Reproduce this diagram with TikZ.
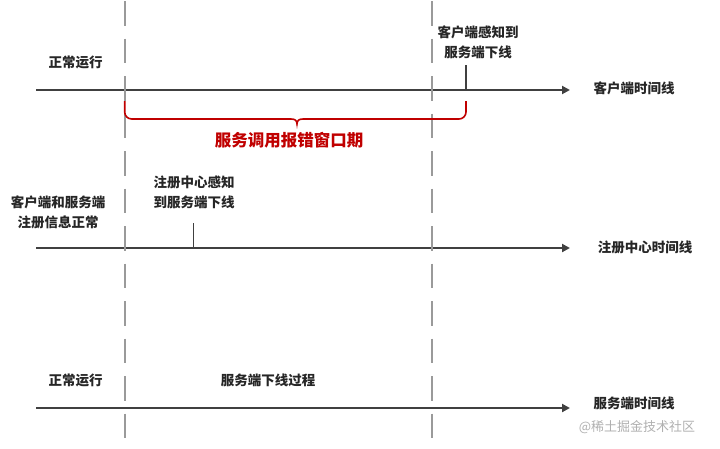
\documentclass[tikz,border=0pt]{standalone}
\usepackage{fontspec}
\setmainfont{Noto Sans CJK SC}
\usetikzlibrary{arrows.meta}
\definecolor{tl}{HTML}{404040}
\definecolor{dl}{HTML}{9A9A9A}
\definecolor{rd}{HTML}{C00000}
\definecolor{wm}{HTML}{B0B0B0}
\tikzset{
  timeline/.style={draw=tl, line width=2pt, -{Triangle[length=8pt,width=8pt]}},
  tickline/.style={draw=tl, line width=1.6pt},
  sepline/.style={draw=dl, line width=2pt, dash pattern=on 24.5pt off 13pt},
  bracel/.style={draw=rd, line width=1.6pt},
  lbl/.style={font={\fontsize{13.5}{20}\selectfont\bfseries}, text=black!85, align=center, inner sep=0pt},
  redlbl/.style={font={\fontsize{16.5}{20}\selectfont\bfseries}, text=rd, inner sep=0pt},
  wmk/.style={font={\fontsize{13}{16}\selectfont}, text=wm, inner sep=0pt}
}
\begin{document}
\begin{tikzpicture}[x=1pt,y=-1pt]
\useasboundingbox (0,0) rectangle (720,448);
% timeline endpoints
\coordinate (c0) at (36,90);   \coordinate (c1) at (570,90);
\coordinate (r0) at (36,248);  \coordinate (r1) at (570,248);
\coordinate (s0) at (36,408);  \coordinate (s1) at (570,408);
\draw[timeline] (c0) -- (c1);
\draw[timeline] (r0) -- (r1);
\draw[timeline] (s0) -- (s1);
% ticks
\coordinate (ct0) at (466,65); \coordinate (ct1) at (466,90);
\coordinate (rt0) at (193.5,223); \coordinate (rt1) at (193.5,248);
\draw[tickline] (ct0) -- (ct1);
\draw[tickline] (rt0) -- (rt1);
% separators
\coordinate (d1a) at (124.7,1); \coordinate (d1b) at (124.7,448);
\coordinate (d2a) at (431.7,1); \coordinate (d2b) at (431.7,448);
\draw[sepline] (d1a) -- (d1b);
\draw[sepline] (d2a) -- (d2b);
% brace
\coordinate (bl) at (124.7,101);
\coordinate (br) at (466,101);
\coordinate (bt) at (297,124);
\draw[bracel,rounded corners=7pt] (bl) -- (124.7,119) -- (291,119);
\draw[bracel,rounded corners=7pt] (br) -- (466,119) -- (303,119);
\draw[bracel] (291,119) .. controls (295,119) and (297,120.5) .. (bt)
  .. controls (297,120.5) and (299,119) .. (303,119);
% labels
\node[lbl] (n1) at (75.5,62) {正常运行};
\node[lbl] (n2) at (478,42) {客户端感知到\\服务端下线};
\node[lbl] (n3) at (634,88) {客户端时间线};
\node[redlbl] (n4) at (289,140) {服务调用报错窗口期};
\node[lbl] (n5) at (194,192.5) {注册中心感知\\到服务端下线};
\node[lbl] (n6) at (58,212.5) {客户端和服务端\\注册信息正常};
\node[lbl] (n7) at (645,247) {注册中心时间线};
\node[lbl] (n8) at (75.5,380) {正常运行};
\node[lbl] (n9) at (268,380) {服务端下线过程};
\node[lbl] (n10) at (634,403) {服务端时间线};
\node[wmk] (n11) at (637,427) {@稀土掘金技术社区};
\end{tikzpicture}
\end{document}
